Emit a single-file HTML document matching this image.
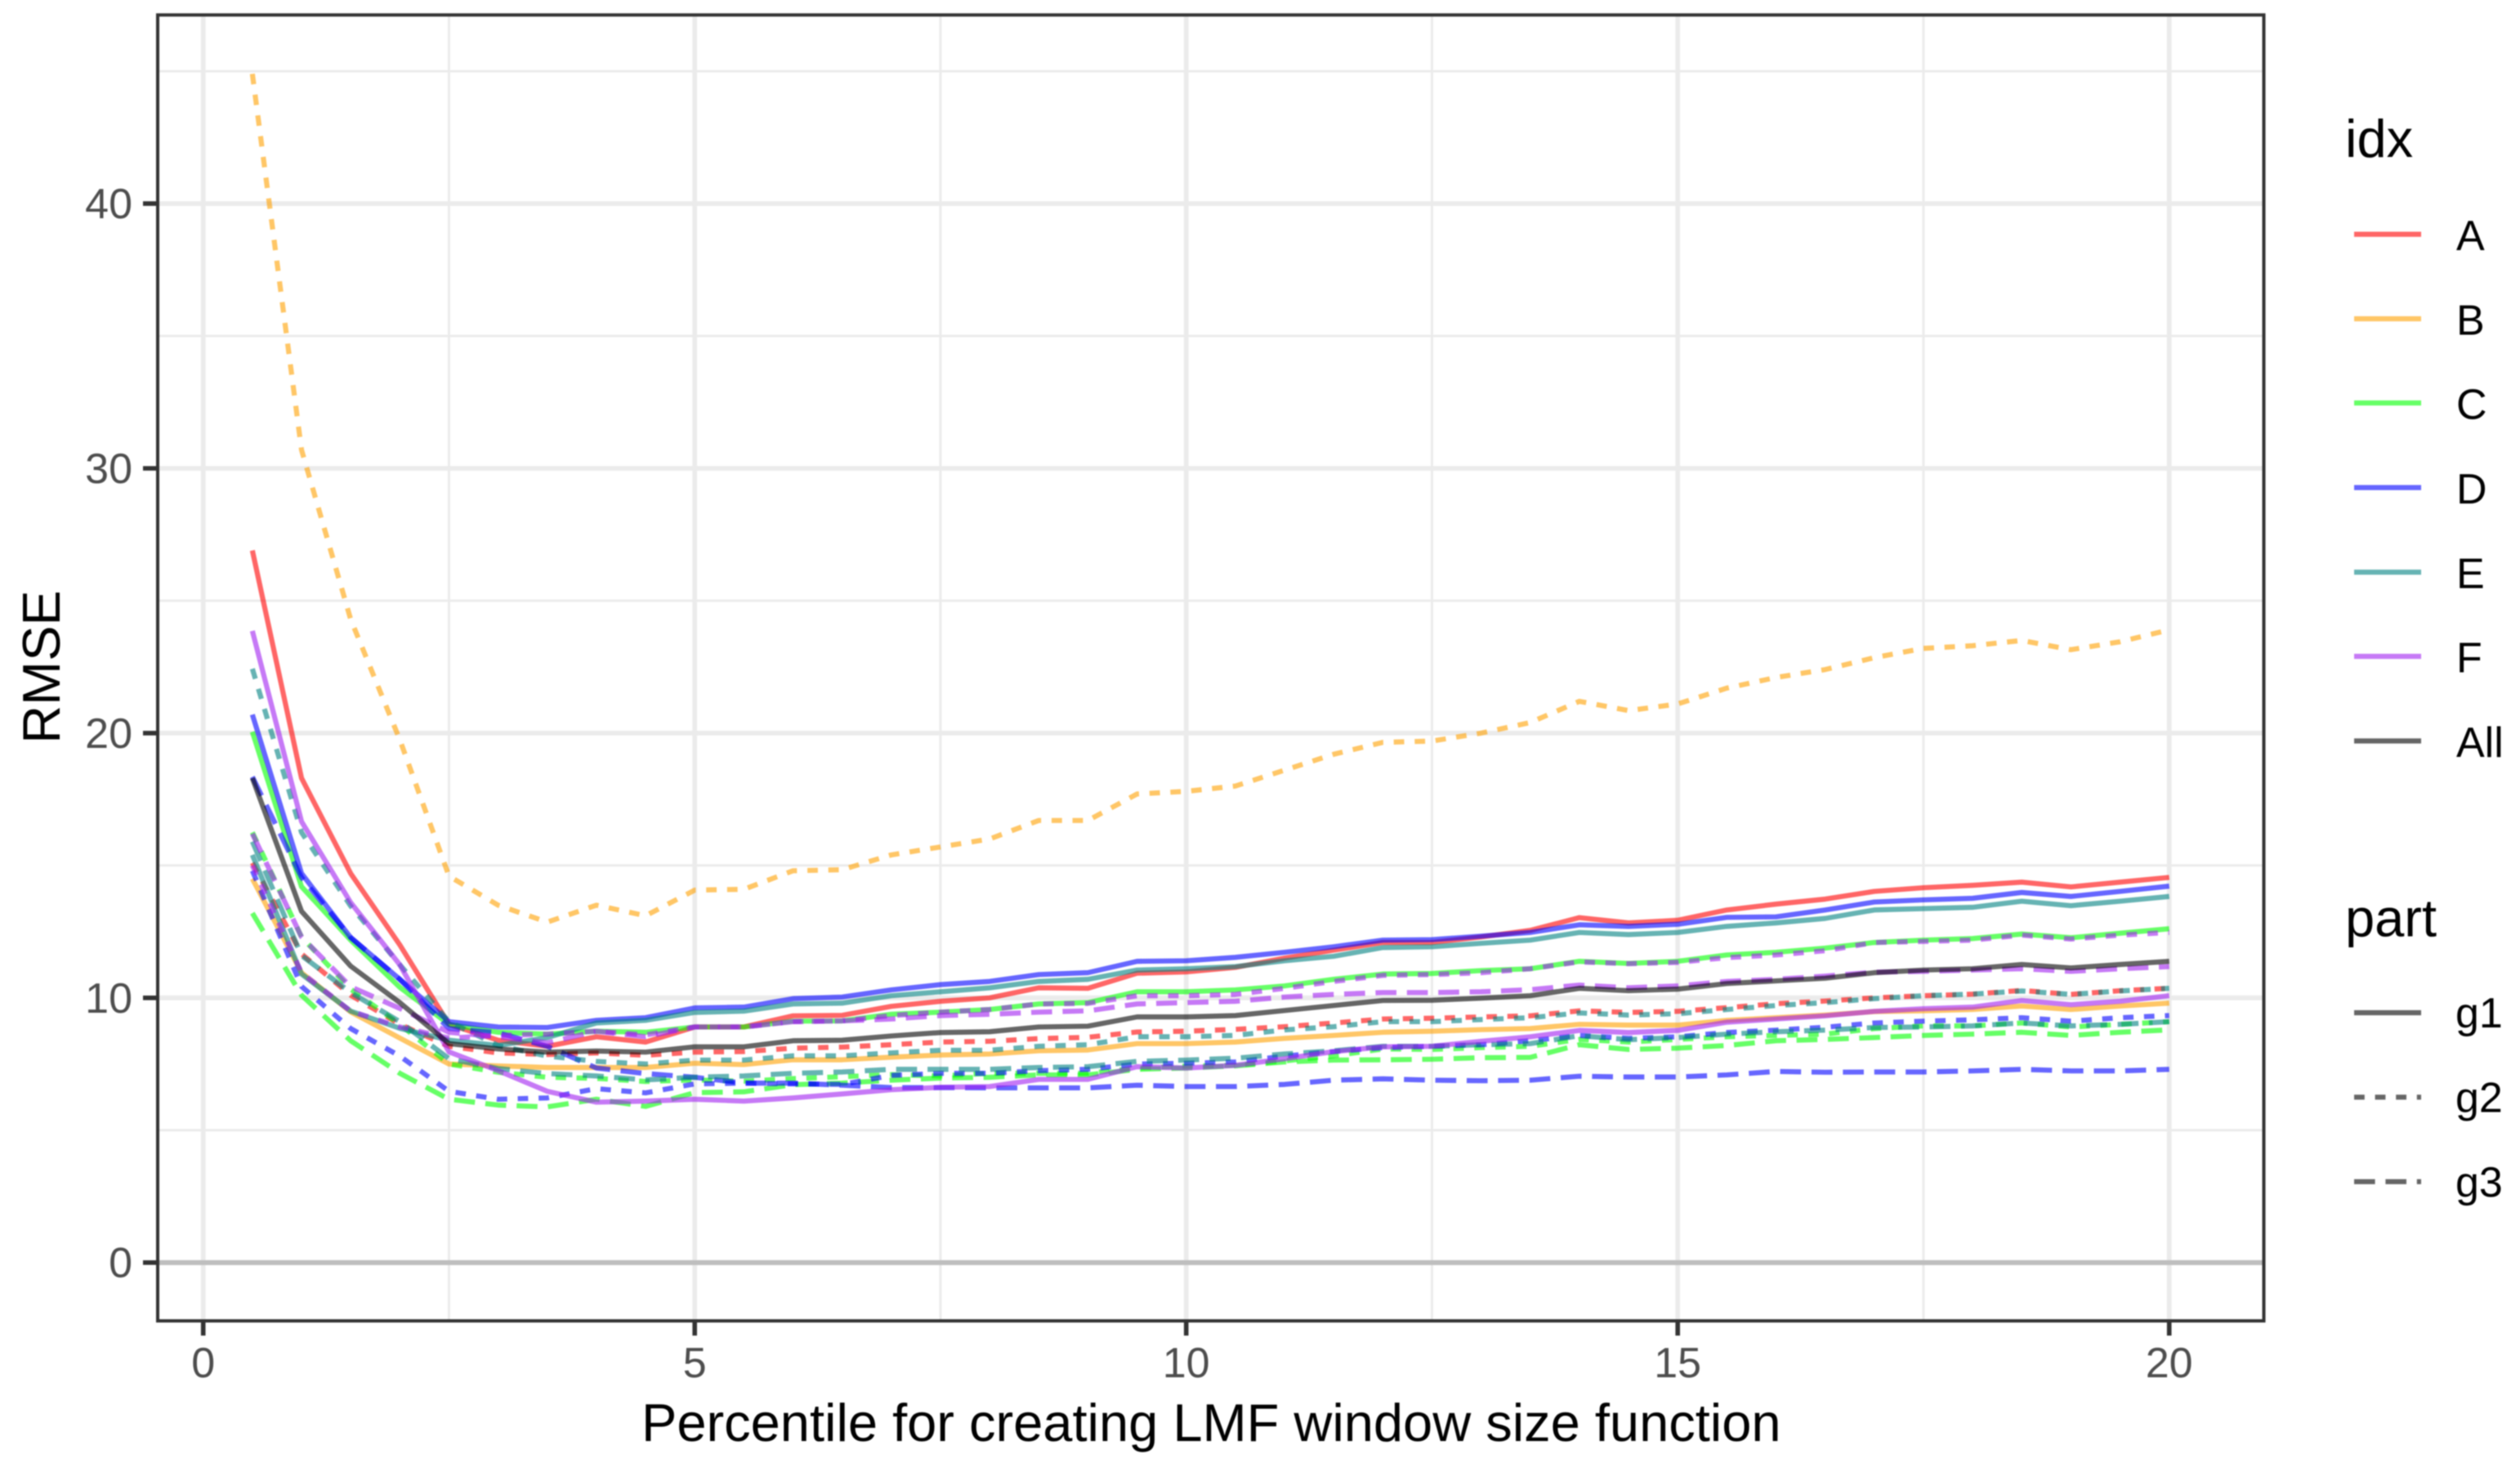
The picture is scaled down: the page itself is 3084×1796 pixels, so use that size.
<!DOCTYPE html>
<html lang="en">
<head>
<meta charset="utf-8">
<title>RMSE by percentile for LMF window size function</title>
<style>
html,body{margin:0;padding:0;background:#fff;}
svg{display:block;font-family:"Liberation Sans",sans-serif;filter:blur(0.7px);}
</style>
</head>
<body>
<svg id="chart" width="3084" height="1796" viewBox="0 0 3084 1796" xmlns="http://www.w3.org/2000/svg">
  <rect x="0" y="0" width="3084" height="1796" fill="#ffffff"/>
  <g id="grid"></g>
  <g id="series"></g>
  <rect x="193" y="18.3" width="2577.5" height="1597.7" fill="none" stroke="#333333" stroke-width="4"/>
  <g id="ticks"></g>
  <text x="785" y="1763" font-size="65" fill="#000">Percentile for creating LMF window size function</text>
  <text transform="translate(73,816) rotate(-90)" text-anchor="middle" font-size="65" fill="#000">RMSE</text>

  <g>
    <text x="2870" y="192" font-size="65" fill="#000">idx</text>
    <g><line x1="2881" x2="2963" y1="286.6" y2="286.6" stroke="#ff0000" stroke-opacity="0.6" stroke-width="6.2"/><text x="3006" y="306" font-size="52" fill="#000">A</text></g>
    <g><line x1="2881" x2="2963" y1="390" y2="390" stroke="#ffa000" stroke-opacity="0.6" stroke-width="6.2"/><text x="3006" y="409.5" font-size="52" fill="#000">B</text></g>
    <g><line x1="2881" x2="2963" y1="493" y2="493" stroke="#00ff00" stroke-opacity="0.6" stroke-width="6.2"/><text x="3006" y="512.5" font-size="52" fill="#000">C</text></g>
    <g><line x1="2881" x2="2963" y1="596.5" y2="596.5" stroke="#0000ff" stroke-opacity="0.6" stroke-width="6.2"/><text x="3006" y="616" font-size="52" fill="#000">D</text></g>
    <g><line x1="2881" x2="2963" y1="700" y2="700" stroke="#008080" stroke-opacity="0.6" stroke-width="6.2"/><text x="3006" y="719.5" font-size="52" fill="#000">E</text></g>
    <g><line x1="2881" x2="2963" y1="803" y2="803" stroke="#a020f0" stroke-opacity="0.6" stroke-width="6.2"/><text x="3006" y="822.5" font-size="52" fill="#000">F</text></g>
    <g><line x1="2881" x2="2963" y1="906.5" y2="906.5" stroke="#000000" stroke-opacity="0.6" stroke-width="6.2"/><text x="3006" y="926" font-size="52" fill="#000">All</text></g>
  </g>
  <g>
    <text x="2870" y="1145.7" font-size="65" fill="#000">part</text>
    <g><line x1="2881" x2="2963" y1="1239" y2="1239" stroke="#000000" stroke-opacity="0.6" stroke-width="6.2"/><text x="3005" y="1257" font-size="52" fill="#000">g1</text></g>
    <g><line x1="2881" x2="2963" y1="1342.3" y2="1342.3" stroke="#000000" stroke-opacity="0.6" stroke-width="6.2" stroke-dasharray="12.8 12.8"/><text x="3005" y="1360.5" font-size="52" fill="#000">g2</text></g>
    <g><line x1="2881" x2="2963" y1="1445.7" y2="1445.7" stroke="#000000" stroke-opacity="0.6" stroke-width="6.2" stroke-dasharray="25.6 12.8"/><text x="3005" y="1464" font-size="52" fill="#000">g3</text></g>
  </g>
</svg>
<script>
var percentiles = [0.5,1,1.5,2,2.5,3,3.5,4,4.5,5,5.5,6,6.5,7,7.5,8,8.5,9,9.5,10,10.5,11,11.5,12,12.5,13,13.5,14,14.5,15,15.5,16,16.5,17,17.5,18,18.5,19,19.5,20];
var xTickLabels = [0,5,10,15,20];
var yTickLabels = [0,10,20,30,40];
var xMinorBreaks = [2.5,7.5,12.5,17.5];
var yMinorBreaks = [5,15,25,35,45];

var aG1 = [26.9,18.3,14.7,12.0,9.0,8.4,8.17,8.53,8.33,8.9,8.9,9.32,9.34,9.68,9.87,10.0,10.38,10.36,10.93,10.98,11.15,11.5,11.8,12.09,12.09,12.3,12.55,13.03,12.83,12.93,13.32,13.54,13.73,14.02,14.16,14.25,14.37,14.19,14.37,14.55];
var aG2 = [15.1,11.66,10.1,9.0,8.17,7.92,7.86,7.92,7.83,7.95,7.97,8.1,8.14,8.23,8.33,8.36,8.46,8.51,8.71,8.74,8.81,8.91,9.05,9.2,9.23,9.28,9.32,9.51,9.45,9.49,9.63,9.78,9.88,10.0,10.08,10.14,10.28,10.13,10.27,10.36];
var bG1 = [14.5,10.95,9.47,8.48,7.5,7.43,7.37,7.37,7.37,7.53,7.48,7.66,7.66,7.76,7.84,7.88,8.0,8.03,8.27,8.27,8.33,8.47,8.58,8.7,8.74,8.8,8.84,9.0,8.97,8.97,9.15,9.25,9.35,9.48,9.51,9.56,9.69,9.56,9.69,9.8];
var bG2 = [44.9,30.7,24.3,19.75,14.6,13.5,12.86,13.5,13.1,14.07,14.1,14.8,14.84,15.4,15.7,16.0,16.7,16.7,17.7,17.8,18.0,18.6,19.2,19.65,19.7,20.0,20.4,21.2,20.85,21.1,21.7,22.1,22.4,22.85,23.2,23.3,23.5,23.15,23.45,23.9];
var cG1 = [20.05,14.2,12.18,10.4,9.0,8.7,8.63,8.74,8.7,8.9,8.9,9.12,9.13,9.38,9.46,9.56,9.77,9.82,10.23,10.23,10.3,10.45,10.7,10.9,10.92,11.03,11.1,11.38,11.3,11.38,11.62,11.72,11.88,12.09,12.18,12.24,12.41,12.27,12.44,12.61];
var cG2 = [16.25,12.3,10.33,9.0,7.5,7.19,7.0,6.96,6.84,6.9,6.85,6.95,7.02,7.1,7.05,7.15,7.15,7.15,7.35,7.42,7.45,7.62,7.81,8.07,8.05,8.12,8.17,8.43,8.33,8.43,8.53,8.58,8.63,8.84,8.94,8.94,9.05,8.9,9.0,9.1];
var cG3 = [13.2,10.1,8.38,7.15,6.17,5.95,5.88,6.17,5.9,6.42,6.45,6.72,6.78,6.89,6.97,7.0,7.09,7.09,7.3,7.35,7.43,7.58,7.65,7.66,7.68,7.74,7.75,8.23,8.05,8.1,8.2,8.38,8.43,8.5,8.58,8.63,8.7,8.58,8.7,8.79];
var dG1 = [20.7,14.7,12.28,10.7,9.1,8.9,8.88,9.15,9.25,9.62,9.65,9.97,10.03,10.3,10.5,10.62,10.88,10.95,11.38,11.4,11.53,11.72,11.93,12.18,12.2,12.33,12.47,12.76,12.7,12.78,13.04,13.06,13.32,13.62,13.7,13.76,13.98,13.83,14.02,14.22];
var dG2 = [14.8,10.43,8.84,7.8,6.47,6.17,6.22,6.57,6.41,6.75,6.78,6.75,6.73,7.07,7.15,7.15,7.25,7.3,7.5,7.53,7.58,7.8,7.97,8.12,8.17,8.23,8.38,8.58,8.47,8.53,8.69,8.78,8.89,9.05,9.12,9.17,9.25,9.12,9.25,9.33];
var dG3 = [18.35,14.55,12.28,10.7,8.84,8.68,8.17,7.35,7.14,7.0,6.78,6.78,6.7,6.61,6.61,6.6,6.6,6.6,6.7,6.65,6.65,6.73,6.89,6.94,6.89,6.87,6.89,7.04,7.01,7.01,7.09,7.22,7.19,7.2,7.2,7.24,7.3,7.24,7.24,7.3];
var eG1 = [15.4,10.9,9.5,8.85,8.4,8.2,8.5,9.05,9.15,9.45,9.5,9.77,9.8,10.08,10.23,10.38,10.62,10.7,11.05,11.1,11.18,11.4,11.57,11.9,11.93,12.06,12.18,12.47,12.39,12.47,12.7,12.83,13.0,13.32,13.37,13.42,13.65,13.48,13.65,13.83];
var eG2 = [22.43,16.25,13.47,11.25,9.1,8.2,7.8,7.6,7.5,7.65,7.65,7.81,7.81,7.92,8.02,8.02,8.17,8.23,8.53,8.53,8.58,8.79,8.91,9.1,9.1,9.18,9.25,9.43,9.35,9.4,9.56,9.71,9.82,9.97,10.08,10.14,10.26,10.13,10.26,10.36];
var eG3 = [15.9,11.6,10.2,9.1,7.7,7.33,7.14,7.05,6.9,7.0,7.05,7.15,7.2,7.3,7.3,7.3,7.37,7.4,7.6,7.65,7.72,7.88,8.0,8.17,8.17,8.23,8.27,8.57,8.42,8.5,8.63,8.72,8.78,8.88,8.9,8.94,9.05,8.94,9.0,9.1];
var fG1 = [23.86,16.66,13.6,11.25,7.96,7.25,6.47,6.06,6.1,6.17,6.1,6.22,6.37,6.53,6.62,6.65,6.92,6.92,7.4,7.35,7.45,7.7,7.97,8.15,8.17,8.36,8.53,8.77,8.69,8.77,9.08,9.2,9.32,9.49,9.59,9.65,9.9,9.74,9.87,10.08];
var fG2 = [15.0,10.95,9.5,8.9,8.48,8.58,8.63,8.74,8.6,8.9,8.9,9.1,9.13,9.33,9.46,9.56,9.77,9.79,10.08,10.08,10.13,10.36,10.62,10.85,10.88,10.95,11.1,11.36,11.29,11.34,11.52,11.62,11.78,12.09,12.13,12.18,12.37,12.22,12.37,12.47];
var fG3 = [16.2,12.3,10.42,9.6,8.7,8.53,8.3,8.74,8.53,8.9,8.9,9.1,9.13,9.2,9.33,9.38,9.46,9.51,9.77,9.82,9.87,10.03,10.13,10.2,10.2,10.23,10.31,10.48,10.38,10.45,10.62,10.7,10.82,10.97,11.0,11.05,11.1,11.0,11.1,11.18];
var allG1 = [18.3,13.27,11.2,9.82,8.27,8.07,7.95,7.99,7.95,8.15,8.15,8.38,8.4,8.56,8.69,8.72,8.9,8.93,9.28,9.28,9.33,9.52,9.71,9.9,9.91,9.99,10.08,10.36,10.27,10.33,10.54,10.64,10.74,10.95,11.05,11.1,11.26,11.13,11.26,11.38];

var NS = 'http://www.w3.org/2000/svg';
var PANEL = {left:193, right:2770.5, top:18.3, bottom:1616};
function xScale(v){ return 248.7 + v * 120.3; }
function yScale(v){ return 1544.7 - v * 32.39; }
function make(tag, attrs, parent){
  var el = document.createElementNS(NS, tag);
  for (var k in attrs) el.setAttribute(k, attrs[k]);
  parent.appendChild(el);
  return el;
}

var gridG = document.getElementById('grid');
var ticksG = document.getElementById('ticks');
var seriesG = document.getElementById('series');

xMinorBreaks.forEach(function(v){
  var el = make('line', {x1:xScale(v), x2:xScale(v), y1:PANEL.top, y2:PANEL.bottom, stroke:'#ebebeb', 'stroke-width':2.9}, gridG);
  
  
});
yMinorBreaks.forEach(function(v){
  var el = make('line', {x1:PANEL.left, x2:PANEL.right, y1:yScale(v), y2:yScale(v), stroke:'#ebebeb', 'stroke-width':2.9}, gridG);
  
  
});
xTickLabels.forEach(function(v){
  var el = make('line', {x1:xScale(v), x2:xScale(v), y1:PANEL.top, y2:PANEL.bottom, stroke:'#ebebeb', 'stroke-width':5.8}, gridG);
  
  
  var tick = make('line', {x1:xScale(v), x2:xScale(v), y1:PANEL.bottom, y2:1634, stroke:'#333333', 'stroke-width':5.6}, ticksG);
  
  
  var label = make('text', {x:xScale(v), y:1685, 'text-anchor':'middle', 'font-size':52, fill:'#4d4d4d'}, ticksG);
  
  
  label.textContent = v;
});
yTickLabels.forEach(function(v){
  var el = make('line', {x1:PANEL.left, x2:PANEL.right, y1:yScale(v), y2:yScale(v), stroke:'#ebebeb', 'stroke-width':5.8}, gridG);
  
  
  var tick = make('line', {x1:175, x2:PANEL.left, y1:yScale(v), y2:yScale(v), stroke:'#333333', 'stroke-width':5.6}, ticksG);
  
  
  var label = make('text', {x:162, y:yScale(v) + 18, 'text-anchor':'end', 'font-size':52, fill:'#4d4d4d'}, ticksG);
  
  
  label.textContent = v;
});
var zeroLine = make('line', {x1:PANEL.left, x2:PANEL.right, y1:yScale(0), y2:yScale(0), stroke:'#bebebe', 'stroke-width':6}, gridG);



var dashByPart = {g1:'none', g2:'12.8 12.8', g3:'25.6 12.8'};
var colorByIdx = {A:'#ff0000', B:'#ffa000', C:'#00ff00', D:'#0000ff', E:'#008080', F:'#a020f0', All:'#000000'};
var seriesList = [
  ['A','g1',aG1],['A','g2',aG2],
  ['B','g1',bG1],['B','g2',bG2],
  ['C','g1',cG1],['C','g2',cG2],['C','g3',cG3],
  ['D','g1',dG1],['D','g2',dG2],['D','g3',dG3],
  ['E','g1',eG1],['E','g2',eG2],['E','g3',eG3],
  ['F','g1',fG1],['F','g2',fG2],['F','g3',fG3],
  ['All','g1',allG1]
];
seriesList.forEach(function(s){
  var pts = s[2].map(function(v, i){ return xScale(percentiles[i]).toFixed(2) + ',' + yScale(v).toFixed(2); }).join(' ');
  var line = make('polyline', {points:pts, fill:'none', stroke:colorByIdx[s[0]], 'stroke-opacity':0.6, 'stroke-width':6.2, 'stroke-linejoin':'round', 'stroke-linecap':'butt', 'stroke-dasharray':dashByPart[s[1]]}, seriesG);
  
  
});
</script>
</body>
</html>
